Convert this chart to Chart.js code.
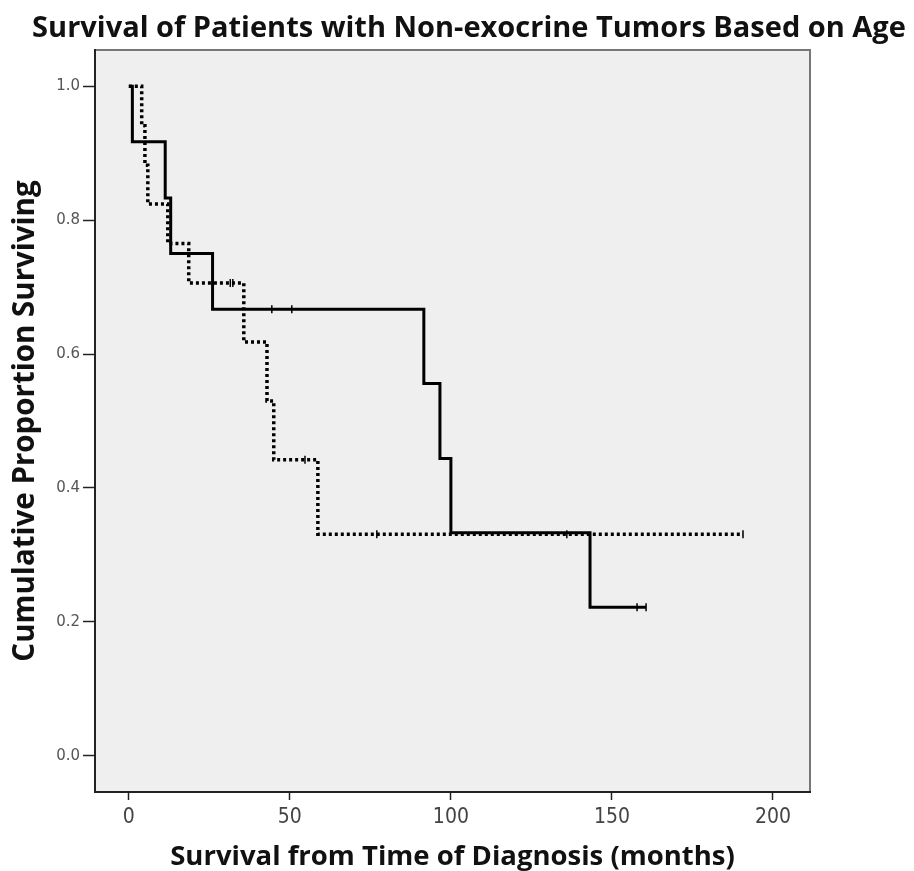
<!DOCTYPE html>
<html>
<head>
<meta charset="utf-8">
<script src="https://cdn.jsdelivr.net/npm/chart.js@4.4.1/dist/chart.umd.min.js"></script>
<style>
  html, body { margin: 0; padding: 0; background: #fff; }
</style>
</head>
<body>
<canvas id="km" width="914" height="871"></canvas>
<script>
const chartTitle = 'Survival of Patients with Non-exocrine Tumors Based on Age';
const xTitle = 'Survival from Time of Diagnosis (months)';
const yTitle = 'Cumulative Proportion Surviving';
const xTicks = [0, 50, 100, 150, 200];
const yTicks = [0, 0.2, 0.4, 0.6, 0.8, 1.0];

// solid curve (one age group)
const solidTime = [0, 1.1, 11.3, 13.0, 26.0, 91.6, 96.6, 100.0, 143.2, 160.6];
const solidSurv = [1.0, 0.917, 0.833, 0.750, 0.667, 0.556, 0.444, 0.333, 0.222, 0.222];
const solidCensorTime = [44.4, 50.6, 157.8, 160.6];
const solidCensorSurv = [0.667, 0.667, 0.222, 0.222];

// dotted curve (other age group)
const dottedTime = [0, 4.0, 5.0, 5.9, 12.1, 18.6, 35.7, 42.9, 45.0, 58.7, 190.7];
const dottedSurv = [1.0, 0.941, 0.882, 0.824, 0.765, 0.706, 0.618, 0.530, 0.442, 0.331, 0.331];
const dottedCensorTime = [31.5, 32.3, 54.7, 77.0, 136.0, 190.7];
const dottedCensorSurv = [0.706, 0.706, 0.442, 0.331, 0.331, 0.331];

const pts = (xs, ys) => xs.map((x, i) => ({ x: x, y: ys[i] }));

// grey plot panel with a frame
const plotBg = {
  id: 'plotBg',
  beforeDraw(chart) {
    const { ctx, chartArea: a } = chart;
    ctx.save();
    ctx.fillStyle = '#efefef';
    ctx.fillRect(a.left, a.top, a.right - a.left, a.bottom - a.top);
    ctx.strokeStyle = '#777';
    ctx.lineWidth = 2;
    ctx.strokeRect(a.left, a.top, a.right - a.left, a.bottom - a.top);
    ctx.restore();
  }
};

const censorStyle = {
  showLine: false,
  pointStyle: 'line',
  pointRotation: 90,
  pointRadius: 4,
  pointBorderColor: '#000',
  pointBorderWidth: 1.5
};

new Chart(document.getElementById('km'), {
  type: 'scatter',
  data: {
    datasets: [
      {
        data: pts(solidTime, solidSurv),
        showLine: true,
        stepped: true,
        borderColor: '#000',
        borderWidth: 3,
        pointRadius: 0
      },
      {
        data: pts(dottedTime, dottedSurv),
        showLine: true,
        stepped: true,
        borderColor: '#000',
        borderWidth: 3.5,
        borderDash: [3, 3],
        borderCapStyle: 'butt',
        pointRadius: 0
      },
      Object.assign({ data: pts(solidCensorTime, solidCensorSurv) }, censorStyle),
      Object.assign({ data: pts(dottedCensorTime, dottedCensorSurv) }, censorStyle)
    ]
  },
  options: {
    responsive: false,
    animation: false,
    layout: { padding: { left: 24, right: 0, top: 0, bottom: 0 } },
    plugins: {
      legend: { display: false },
      tooltip: { enabled: false },
      title: {
        display: true,
        text: chartTitle,
        color: '#111',
        font: { family: 'Open Sans', weight: 'bold', size: 29, lineHeight: 1 },
        padding: { top: 14, bottom: 7 }
      }
    },
    scales: {
      x: {
        type: 'linear',
        min: -10.5,
        max: 211.5,
        afterBuildTicks: s => { s.ticks = xTicks.map(v => ({ value: v })); },
        afterFit: s => { s.height = 79; },
        grid: { drawOnChartArea: false, tickLength: 8, tickColor: '#222', tickWidth: 1.5 },
        border: { color: '#222', width: 2 },
        ticks: {
          color: '#444',
          padding: 5,
          maxRotation: 0,
          font: { family: 'DejaVu Sans Condensed', size: 21 }
        },
        title: {
          display: true,
          text: xTitle,
          color: '#111',
          font: { family: 'Open Sans', weight: 'bold', size: 27.5, lineHeight: 1 },
          padding: { top: 0, bottom: 0 }
        }
      },
      y: {
        type: 'linear',
        min: -0.054,
        max: 1.054,
        afterBuildTicks: s => { s.ticks = yTicks.map(v => ({ value: v })); },
        afterFit: s => { s.width = 71; },
        grid: { drawOnChartArea: false, tickLength: 12, tickColor: '#222', tickWidth: 1.5 },
        border: { color: '#222', width: 2 },
        ticks: {
          color: '#555',
          padding: 3,
          font: { family: 'DejaVu Sans', size: 15 },
          callback: v => v.toFixed(1)
        },
        title: {
          display: true,
          text: yTitle,
          color: '#111',
          font: { family: 'Open Sans', weight: 'bold', size: 29.5, lineHeight: 1 },
          padding: { top: -13, bottom: 0 }
        }
      },
      y2: {
        type: 'linear',
        position: 'right',
        display: true,
        min: 0,
        max: 1,
        afterFit: s => { s.width = 104; },
        grid: { display: false },
        border: { display: false },
        ticks: { display: false }
      }
    }
  },
  plugins: [plotBg]
});
</script>
</body>
</html>
